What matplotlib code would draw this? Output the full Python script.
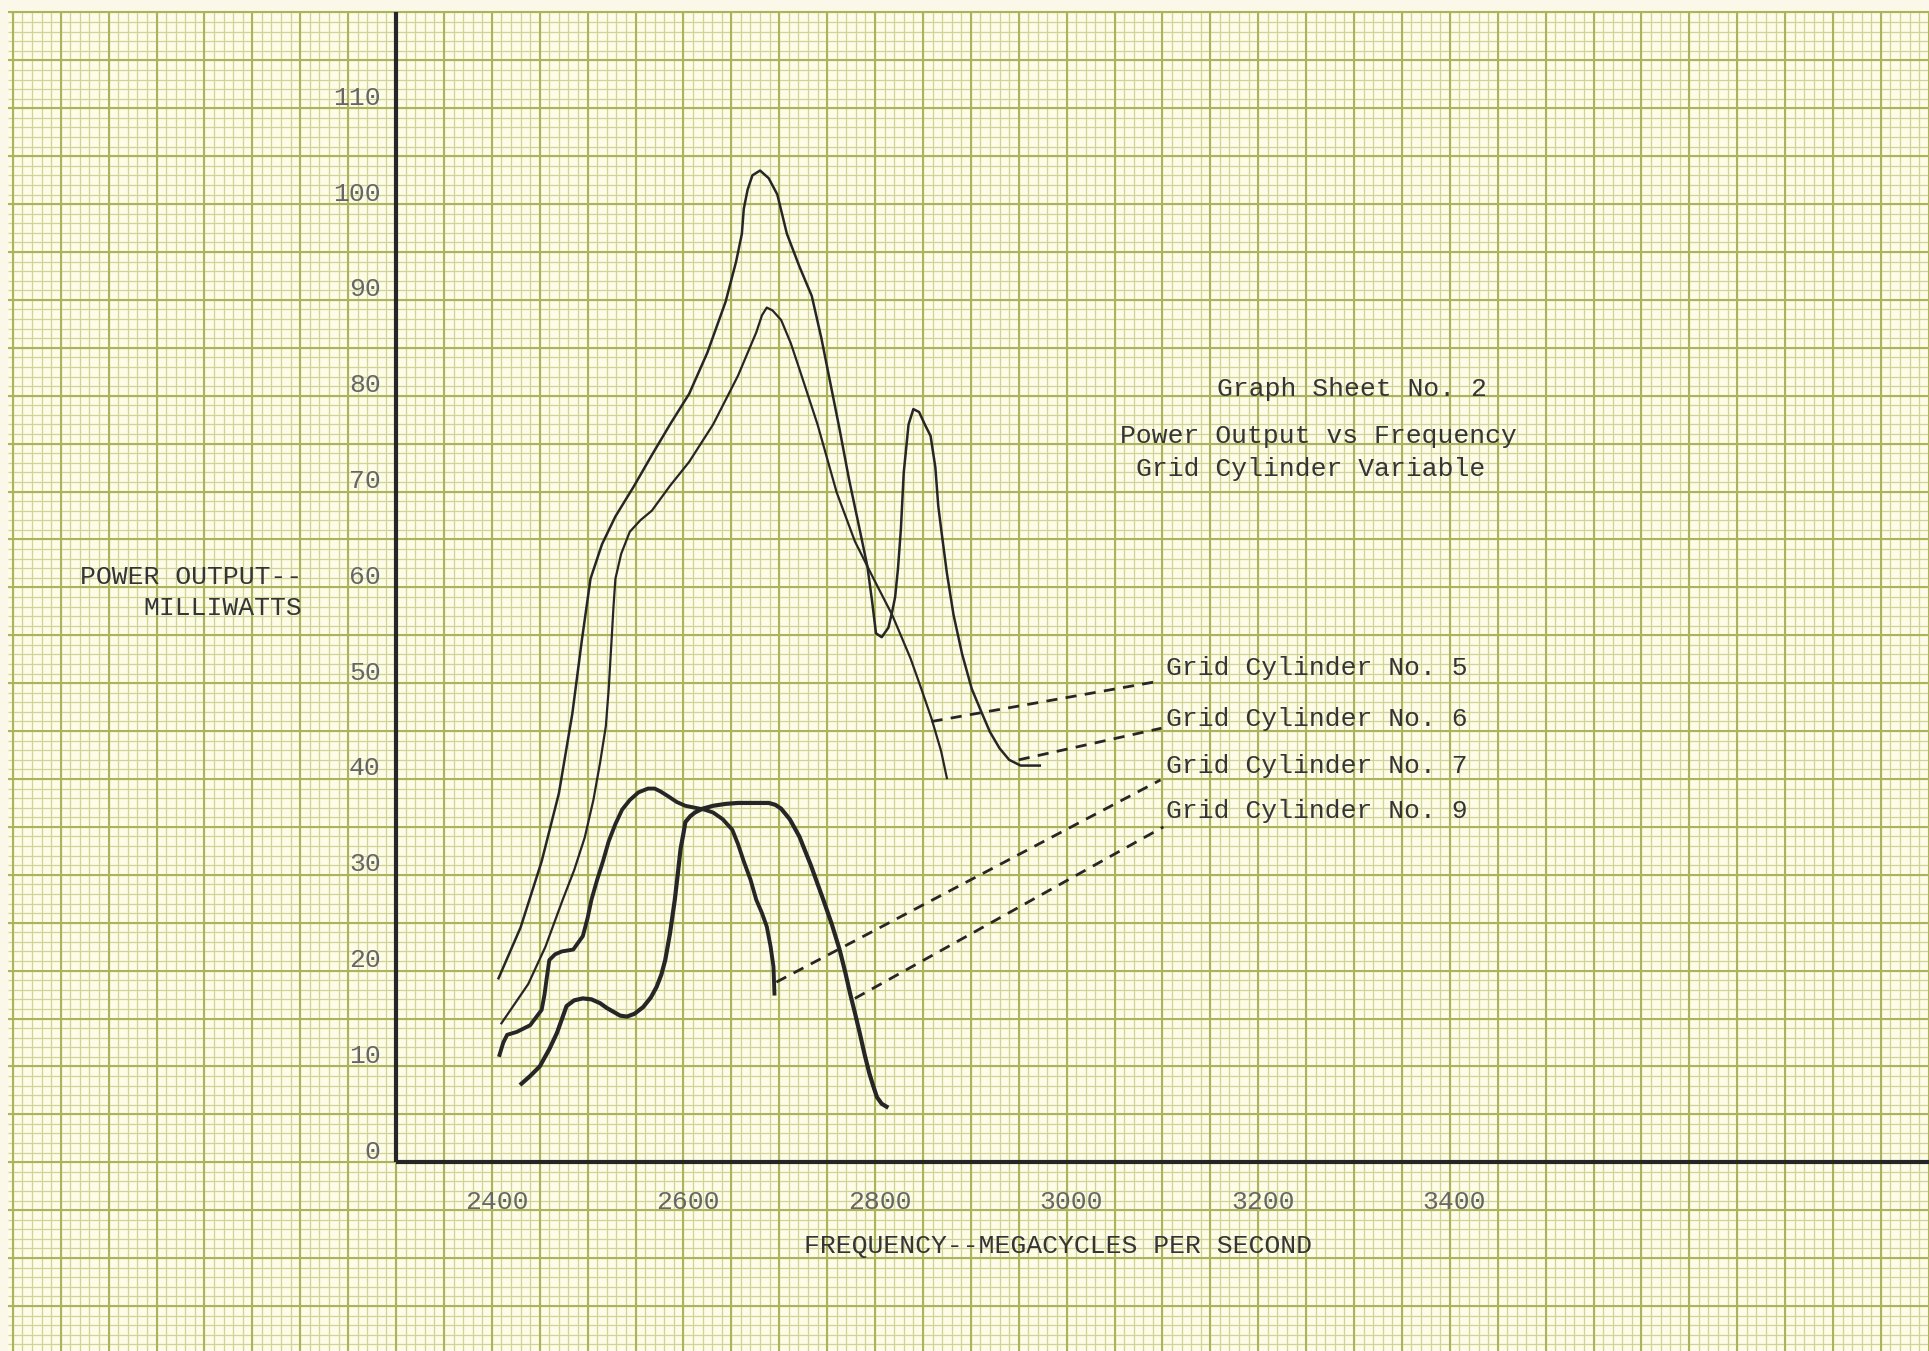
import matplotlib.pyplot as plt
import numpy as np

# Power output vs frequency (MHz, mW)
freq_6 = [2407, 2430, 2452, 2470, 2484, 2494, 2503, 2515, 2529, 2548, 2567, 2586,
          2606, 2625, 2644, 2655, 2661, 2663, 2667, 2672, 2680, 2689, 2698, 2708,
          2721, 2734, 2744, 2753, 2763, 2773, 2783, 2792, 2797, 2801, 2807, 2814,
          2818, 2821, 2824, 2827, 2830, 2835, 2840, 2846, 2852, 2858, 2863, 2866,
          2869, 2875, 2882, 2891, 2901, 2911, 2920, 2930, 2940, 2952, 2972]
power_6 = [19.2, 24.5, 31.4, 38.5, 46.8, 54.5, 60.9, 64.5, 67.4, 70.5, 73.8, 77.0,
           80.2, 84.5, 89.8, 94.0, 96.9, 99.5, 101.5, 103.0, 103.5, 102.7, 101.0, 96.9,
           93.5, 90.4, 86.0, 81.5, 76.5, 71.2, 66.5, 62.2, 58.5, 55.2, 54.8, 55.8,
           57.5, 59.0, 62.0, 66.1, 72.0, 77.0, 78.6, 78.3, 77.0, 75.8, 72.5, 68.5,
           66.1, 61.5, 57.1, 53.0, 49.4, 47.0, 44.9, 43.2, 42.0, 41.4, 41.4]
freq_5 = [2410, 2438, 2456, 2474, 2486, 2497, 2506, 2513, 2519, 2522, 2525, 2527,
          2529, 2535, 2544, 2555, 2567, 2586, 2606, 2631, 2657, 2676, 2682, 2687,
          2693, 2702, 2712, 2721, 2740, 2760, 2779, 2798, 2818, 2837, 2848, 2859,
          2869, 2875]
power_5 = [14.5, 18.6, 22.5, 27.4, 30.5, 33.9, 37.8, 41.7, 45.5, 49.4, 54.5, 58.0,
           60.9, 63.5, 65.8, 67.0, 68.0, 70.6, 73.1, 77.0, 82.1, 86.6, 88.4, 89.2,
           88.9, 87.9, 85.5, 82.8, 77.0, 69.9, 64.8, 61.0, 57.1, 52.6, 49.5, 46.3,
           42.9, 40.1]
freq_7 = [2408, 2412, 2416, 2426, 2440, 2452, 2455, 2457, 2460, 2466, 2473, 2485,
          2495, 2500, 2504, 2510, 2516, 2522, 2529, 2536, 2544, 2553, 2563, 2570,
          2576, 2584, 2593, 2602, 2612, 2622, 2631, 2641, 2651, 2657, 2663, 2670,
          2676, 2682, 2687, 2691, 2694, 2695]
power_7 = [11.2, 12.5, 13.3, 13.6, 14.3, 15.9, 17.5, 19.0, 21.1, 21.7, 22.0, 22.2,
           23.6, 25.5, 27.4, 29.5, 31.4, 33.5, 35.3, 36.8, 37.8, 38.6, 39.0, 39.0,
           38.7, 38.2, 37.6, 37.2, 37.0, 36.8, 36.5, 35.8, 34.7, 33.2, 31.4, 29.5,
           27.4, 26.0, 24.6, 22.5, 20.4, 17.6]
freq_9 = [2431, 2440, 2450, 2460, 2468, 2478, 2486, 2495, 2504, 2513, 2520, 2527,
          2534, 2541, 2549, 2558, 2566, 2572, 2577, 2581, 2586, 2591, 2594, 2597,
          2600, 2602, 2607, 2612, 2620, 2631, 2644, 2657, 2673, 2689, 2696, 2702,
          2711, 2721, 2733, 2746, 2755, 2763, 2769, 2774, 2779, 2784, 2789, 2794,
          2798, 2802, 2807, 2812]
power_9 = [8.2, 9.0, 10.0, 11.8, 13.5, 16.3, 16.9, 17.1, 17.0, 16.6, 16.1, 15.7,
           15.3, 15.2, 15.5, 16.2, 17.2, 18.3, 19.6, 21.1, 23.9, 27.4, 30.0, 32.7,
           34.3, 35.5, 36.1, 36.5, 36.9, 37.2, 37.4, 37.5, 37.5, 37.5, 37.3, 36.9,
           35.8, 34.0, 31.0, 27.4, 24.8, 22.2, 19.8, 17.6, 15.6, 13.5, 11.3, 9.3,
           8.0, 6.8, 6.1, 5.8]

x_ticks = [2400, 2600, 2800, 3000, 3200, 3400]
y_ticks = [0, 10, 20, 30, 40, 50, 60, 70, 80, 90, 100, 110]

legend_names = ['Grid Cylinder No. 5', 'Grid Cylinder No. 6',
                'Grid Cylinder No. 7', 'Grid Cylinder No. 9']
legend_y = [51.6, 46.3, 41.4, 36.7]
# leader lines: (curve end) -> (label end)
leader_from = [(2859, 46.0), (2950, 42.0), (2697, 18.8), (2779, 17.1)]
leader_to = [(3096, 50.2), (3099, 45.3), (3098, 39.9), (3101, 35.0)]

PAPER = '#fdfce6'
MINOR = '#d0d497'
MAJOR = '#adb35c'
INK = '#262626'
TYPE = '#353535'
FONT = ['Liberation Mono', 'DejaVu Sans Mono']

fig = plt.figure(figsize=(19.29, 13.51), dpi=100)
fig.patch.set_facecolor('#fbf8ea')
ax = fig.add_axes([0, 0, 1, 1])
ax.set_xlim(1886.6, 3900.2)
ax.set_ylim(-19.7, 121.3)
ax.axis('off')

# graph paper
ax.add_patch(plt.Rectangle((1895, -20), 2010, 140, facecolor=PAPER, edgecolor='none', zorder=0))
gx = np.arange(1900, 3910, 10)
gy = np.arange(-20, 121, 1)
ax.vlines(gx, -20, 120, color=MINOR, lw=0.9, zorder=1)
ax.hlines(gy, 1895, 3905, color=MINOR, lw=0.9, zorder=1)
ax.vlines(gx[gx % 50 == 0], -20, 120, color=MAJOR, lw=1.5, zorder=1)
ax.hlines(gy[gy % 5 == 0], 1895, 3905, color=MAJOR, lw=1.5, zorder=1)

# axes drawn by hand
ax.plot([2300, 2300], [0, 120], color=INK, lw=3, zorder=3, solid_capstyle='butt')
ax.plot([2300, 3905], [0, 0], color=INK, lw=3, zorder=3, solid_capstyle='butt')

for t in y_ticks:
    ax.text(2284, t + 1.1, str(t), ha='right', va='center', fontsize=19,
            family=FONT, color='#666666', zorder=4)
for t in x_ticks:
    ax.text(t + 5, -4.2, str(t), ha='center', va='center', fontsize=19,
            family=FONT, color='#666666', zorder=4)

ax.text(2202, 61.1, 'POWER OUTPUT--', ha='right', va='center', fontsize=19,
        family=FONT, color=TYPE, zorder=4)
ax.text(2202, 57.8, 'MILLIWATTS', ha='right', va='center', fontsize=19,
        family=FONT, color=TYPE, zorder=4)
ax.text(2991, -8.7, 'FREQUENCY--MEGACYCLES PER SECOND', ha='center', va='center',
        fontsize=19, family=FONT, color=TYPE, zorder=4)

ax.text(3298, 80.7, 'Graph Sheet No. 2', ha='center', va='center', fontsize=19,
        family=FONT, color=TYPE, zorder=4)
ax.text(3263, 75.8, 'Power Output vs Frequency', ha='center', va='center', fontsize=19,
        family=FONT, color=TYPE, zorder=4)
ax.text(3255, 72.4, 'Grid Cylinder Variable', ha='center', va='center', fontsize=19,
        family=FONT, color=TYPE, zorder=4)

# curves
ax.plot(freq_6, power_6, color=INK, lw=1.8, zorder=3, solid_joinstyle='round')
ax.plot(freq_5, power_5, color=INK, lw=1.6, zorder=3, solid_joinstyle='round')
ax.plot(freq_7, power_7, color=INK, lw=2.8, zorder=3, solid_joinstyle='round')
ax.plot(freq_9, power_9, color=INK, lw=3.0, zorder=3, solid_joinstyle='round')

for name, ly, a, b in zip(legend_names, legend_y, leader_from, leader_to):
    ax.text(3104, ly, name, ha='left', va='center', fontsize=19, family=FONT,
            color=TYPE, zorder=4)
    ax.plot([a[0], b[0]], [a[1], b[1]], color=INK, lw=2, ls=(0, (4, 3)), zorder=3)

fig.savefig('out.png', dpi=100, facecolor=fig.get_facecolor())
